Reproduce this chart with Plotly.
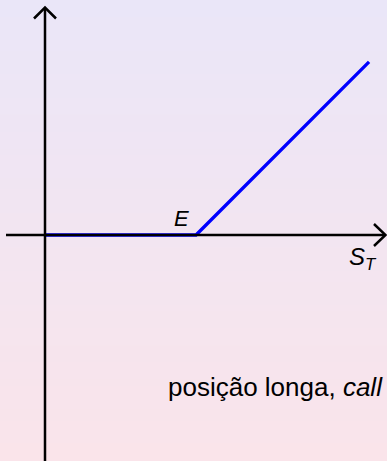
import plotly.graph_objects as go

# Data: long call payoff
strike_E = 1.0
spot_S = [0.0, 1.0, 2.146]
payoff = [0.0, 0.0, 1.146]

W, H = 387, 461
unit = 151.0
x0_px, y0_px = 45.0, 235.0
xr = [-x0_px / unit, (W - x0_px) / unit]
yr = [-(H - y0_px) / unit, y0_px / unit]

def px_x(p):
    return (p - x0_px) / unit

def px_y(p):
    return (y0_px - p) / unit

fig = go.Figure()

# gradient background
top = (234, 230, 248)
bot = (250, 228, 234)
n = 80
shapes = []
for i in range(n):
    t = (i + 0.5) / n
    c = tuple(round(top[k] + (bot[k] - top[k]) * t) for k in range(3))
    shapes.append(dict(type="rect", xref="paper", yref="paper", x0=0, x1=1,
                       y0=1 - (i + 1) / n - 0.001, y1=1 - i / n + 0.001,
                       line=dict(width=0), fillcolor="rgb(%d,%d,%d)" % c, layer="below"))

axis_line = dict(color="black", width=2.5)
# x axis line and chevron
shapes.append(dict(type="line", xref="x", yref="y", x0=px_x(6), x1=px_x(385), y0=0, y1=0, line=axis_line))
shapes.append(dict(type="path", xref="x", yref="y",
                   path="M%f,%f L%f,%f L%f,%f" % (px_x(374), px_y(224), px_x(385.5), 0, px_x(374), px_y(246)),
                   line=axis_line))
# y axis line and chevron
shapes.append(dict(type="line", xref="x", yref="y", x0=0, x1=0, y0=px_y(470), y1=px_y(8), line=axis_line))
shapes.append(dict(type="path", xref="x", yref="y",
                   path="M%f,%f L%f,%f L%f,%f" % (px_x(34), px_y(18.5), 0, px_y(7.5), px_x(56), px_y(18.5)),
                   line=axis_line))

fig.add_trace(go.Scatter(x=spot_S, y=payoff, mode="lines",
                         line=dict(color="#0000ff", width=3.3), hoverinfo="skip"))

annotations = [
    dict(x=px_x(181.5), y=px_y(218), xref="x", yref="y", text="<i>E</i>", showarrow=False,
         font=dict(size=22, color="black", family="Liberation Sans"), xanchor="center", yanchor="middle"),
    dict(x=px_x(347), y=px_y(258), xref="x", yref="y", text="<i>S</i><sub><i>T</i></sub>", showarrow=False,
         font=dict(size=24, color="black", family="Liberation Sans"), xanchor="left", yanchor="middle"),
    dict(x=px_x(166), y=px_y(387), xref="x", yref="y", text="posição longa, <i>call</i>", showarrow=False,
         font=dict(size=26, color="black", family="Liberation Sans"), xanchor="left", yanchor="middle"),
]

fig.update_layout(
    width=W, height=H, margin=dict(l=0, r=0, t=0, b=0),
    paper_bgcolor="rgb(242,229,241)", plot_bgcolor="rgba(0,0,0,0)",
    showlegend=False, shapes=shapes, annotations=annotations,
    xaxis=dict(range=xr, visible=False, fixedrange=True),
    yaxis=dict(range=yr, visible=False, fixedrange=True),
)

fig.write_html("out.html", config={"displayModeBar": False, "staticPlot": True},
               post_script="document.body.style.margin='0';document.body.style.padding='0';")
